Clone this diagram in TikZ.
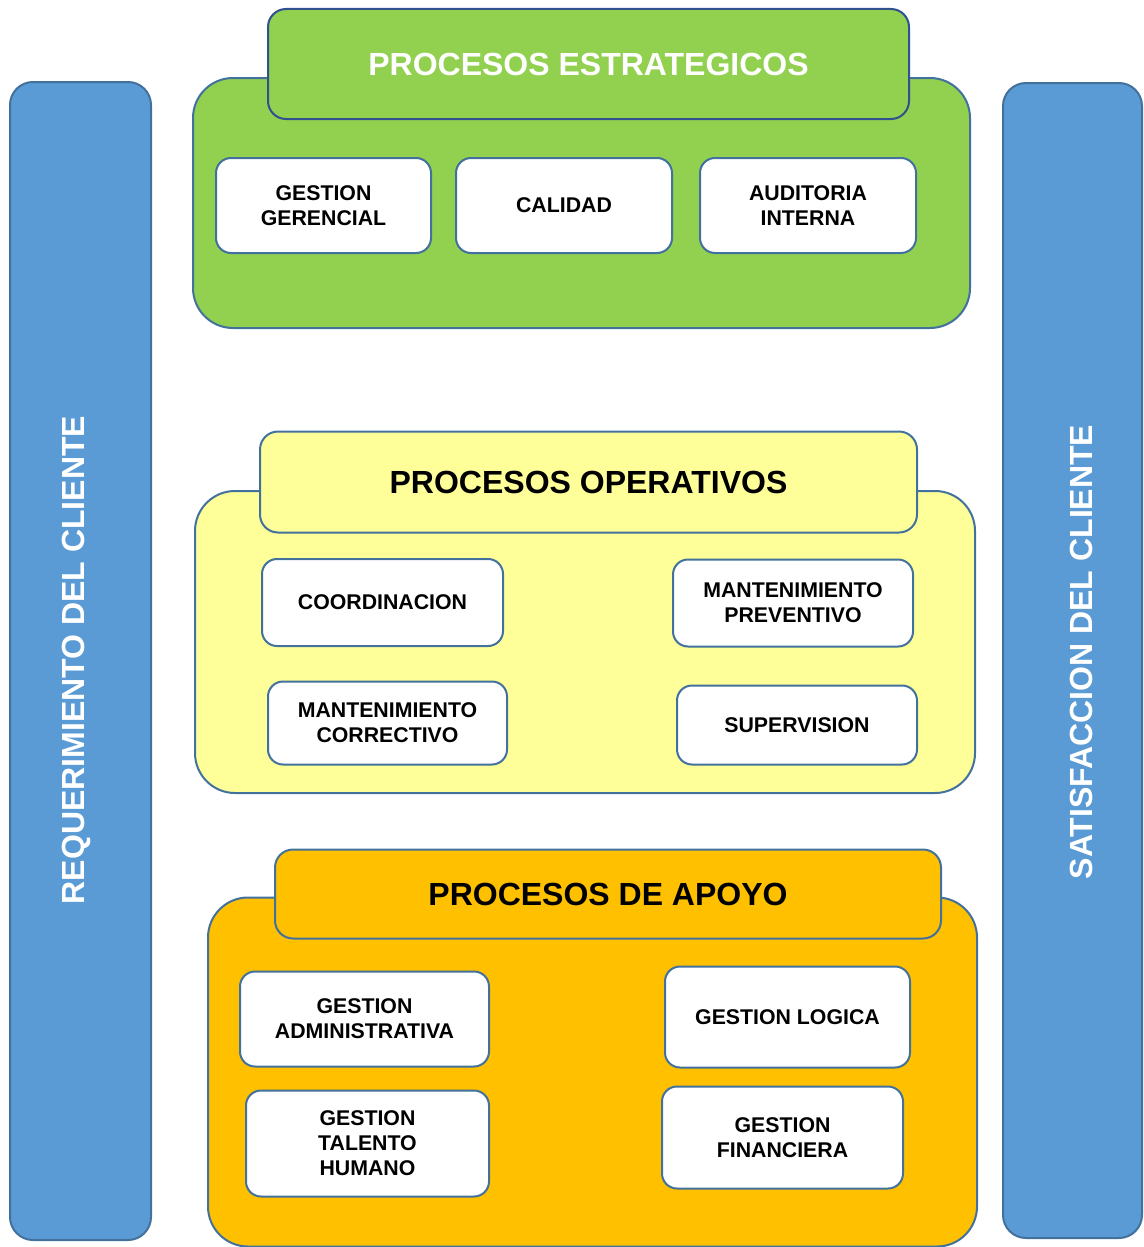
\documentclass[tikz,border=0pt]{standalone}
\usepackage{fontspec}
\setmainfont{Liberation Sans}
\begin{document}
\definecolor{barblue}{HTML}{5B9BD5}
\definecolor{edgeblue}{HTML}{41719C}
\definecolor{edgenavy}{HTML}{2F528F}
\definecolor{stratgreen}{HTML}{92D050}
\definecolor{opyellow}{HTML}{FFFF99}
\definecolor{suporange}{HTML}{FFC000}
\begin{tikzpicture}[x=1pt,y=-1pt,
  sidebar/.style={draw=edgeblue, line width=2pt, fill=barblue, rounded corners=23pt,
    minimum width=#1, inner sep=0pt},
  container/.style={draw=edgeblue, line width=2pt, rounded corners=40pt, inner sep=0pt},
  tabbox/.style={draw=edgeblue, line width=2pt, rounded corners=18pt, inner sep=0pt,
    text depth=0pt, font=\fontsize{32}{36}\selectfont\bfseries},
  procbox/.style={draw=edgeblue, line width=2pt, fill=white, rounded corners=15pt,
    inner sep=0pt, align=center, font=\fontsize{21.3}{25}\selectfont\bfseries},
  sidetext/.style={text=white, rotate=90, font=\fontsize{32}{36}\selectfont\bfseries}
]
\useasboundingbox (0,0) rectangle (1143,1247);

% side bars
\node[sidebar=141pt, minimum height=1158pt] (req) at (80.5,661) {};
\node[sidebar=139pt, minimum height=1155pt] (sat) at (1072.5,660.5) {};
\node[sidetext] (reqtext) at (76,660) {REQUERIMIENTO DEL CLIENTE};
\node[sidetext] (sattext) at (1081,652) {SATISFACCION DEL CLIENTE};

% strategic processes
\node[container, fill=stratgreen, minimum width=777pt, minimum height=250pt] (strat) at (581.5,203) {};
\node[tabbox, draw=edgenavy, fill=stratgreen, text=white, minimum width=641pt, minimum height=110pt] (strattab) at (588.5,64) {PROCESOS ESTRATEGICOS};
\node[procbox, minimum width=215pt, minimum height=95pt] (gg) at (323.5,205.5) {GESTION\\GERENCIAL};
\node[procbox, minimum width=216pt, minimum height=95pt] (cal) at (564,205.5) {CALIDAD};
\node[procbox, minimum width=216pt, minimum height=95pt] (aud) at (808,205.5) {AUDITORIA\\INTERNA};

% operative processes
\node[container, fill=opyellow, minimum width=780pt, minimum height=302pt] (oper) at (585,642) {};
\node[tabbox, fill=opyellow, minimum width=657pt, minimum height=101pt] (opertab) at (588.5,482) {PROCESOS OPERATIVOS};
\node[procbox, minimum width=241pt, minimum height=87pt] (coord) at (382.5,602.5) {COORDINACION};
\node[procbox, minimum width=240pt, minimum height=87pt] (mprev) at (793,603) {MANTENIMIENTO\\PREVENTIVO};
\node[procbox, minimum width=239pt, minimum height=83pt] (mcorr) at (387.5,723) {MANTENIMIENTO\\CORRECTIVO};
\node[procbox, minimum width=240pt, minimum height=79pt] (sup) at (797,725) {SUPERVISION};

% support processes
\node[container, fill=suporange, minimum width=769pt, minimum height=349pt] (apoyo) at (592.5,1072) {};
\node[tabbox, fill=suporange, minimum width=666pt, minimum height=89pt] (apoyotab) at (608,894) {PROCESOS DE APOYO};
\node[procbox, minimum width=249pt, minimum height=95pt] (gadm) at (364.5,1019) {GESTION\\ADMINISTRATIVA};
\node[procbox, minimum width=243pt, minimum height=106pt] (gtal) at (367.5,1143.5) {GESTION\\TALENTO\\HUMANO};
\node[procbox, minimum width=245pt, minimum height=101pt] (glog) at (787.5,1017) {GESTION LOGICA};
\node[procbox, minimum width=241pt, minimum height=102pt] (gfin) at (782.5,1137.5) {GESTION\\FINANCIERA};
\end{tikzpicture}
\end{document}
